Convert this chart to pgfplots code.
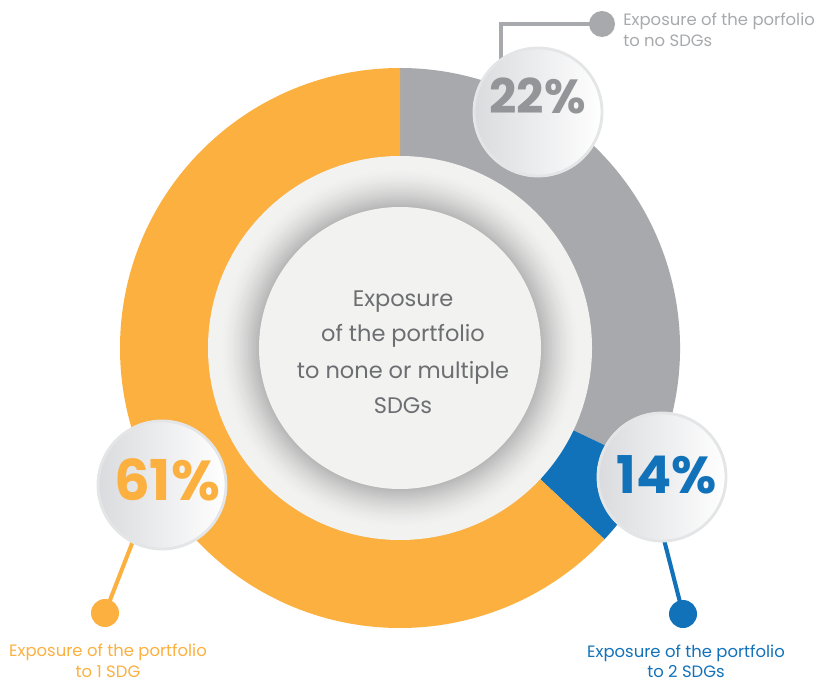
\documentclass[border=0pt]{standalone}
\usepackage{fontspec}
\setmainfont{Poppins}
\usepackage{pgfplots}
\pgfplotsset{compat=1.18}
\definecolor{ringgrey}{HTML}{A7A9AC}
\definecolor{ringorange}{HTML}{FBB040}
\definecolor{ringblue}{HTML}{1172BA}
\definecolor{discfill}{HTML}{F2F2F1}
\definecolor{textgrey}{HTML}{6D6E71}
\definecolor{pctgrey}{HTML}{939598}
\definecolor{bubbleedge}{HTML}{E4E5E7}
\definecolor{bubbleleft}{HTML}{DADBDE}
\definecolor{shadowgrey}{HTML}{B4B4B4}

\tikzset{bubble/.style={left color=bubbleleft, right color=white},
  bubbleline/.style={bubbleedge, line width=2pt},
  lbl/.style={inner sep=0, font=\fontsize{11.7}{14}\selectfont},
  mid/.style={anchor=base, inner sep=0, text=textgrey, font=\fontsize{16}{16}\selectfont}}

\begin{document}
\begin{tikzpicture}
\begin{axis}[
  x=1cm, y=1cm,
  xmin=0, xmax=20.5, ymin=0, ymax=17.025,
  hide axis, clip=false,
]
\path (axis cs:0,0) rectangle (axis cs:20.5,17.025);

% ring segments: no SDG 22%, 2 SDGs 14%, 1 SDG 61%
\fill[ringgrey] (axis cs:10,8.325) -- ++(-25.4:7) arc[start angle=-25.4, end angle=90, radius=7] -- cycle;
\fill[ringblue] (axis cs:10,8.325) -- ++(-43.1:7) arc[start angle=-43.1, end angle=-25.4, radius=7] -- cycle;
\fill[ringorange] (axis cs:10,8.325) -- ++(90:7) arc[start angle=90, end angle=316.9, radius=7] -- cycle;

% inner disc, soft shadow, centre disc
\fill[discfill] (axis cs:10,8.325) circle[radius=4.8];
\fill[shadowgrey!1!discfill] (axis cs:10,8.325) circle[radius=4.45];
\fill[shadowgrey!3!discfill] (axis cs:10,8.325) circle[radius=4.40];
\fill[shadowgrey!6!discfill] (axis cs:10,8.325) circle[radius=4.35];
\fill[shadowgrey!9!discfill] (axis cs:10,8.325) circle[radius=4.30];
\fill[shadowgrey!13!discfill] (axis cs:10,8.325) circle[radius=4.25];
\fill[shadowgrey!17!discfill] (axis cs:10,8.325) circle[radius=4.20];
\fill[shadowgrey!22!discfill] (axis cs:10,8.325) circle[radius=4.15];
\fill[shadowgrey!26!discfill] (axis cs:10,8.325) circle[radius=4.10];
\fill[shadowgrey!31!discfill] (axis cs:10,8.325) circle[radius=4.05];
\fill[shadowgrey!37!discfill] (axis cs:10,8.325) circle[radius=4.00];
\fill[shadowgrey!42!discfill] (axis cs:10,8.325) circle[radius=3.95];
\fill[shadowgrey!48!discfill] (axis cs:10,8.325) circle[radius=3.90];
\fill[shadowgrey!54!discfill] (axis cs:10,8.325) circle[radius=3.85];
\fill[shadowgrey!61!discfill] (axis cs:10,8.325) circle[radius=3.80];
\fill[shadowgrey!67!discfill] (axis cs:10,8.325) circle[radius=3.75];
\fill[shadowgrey!74!discfill] (axis cs:10,8.325) circle[radius=3.70];
\fill[shadowgrey!81!discfill] (axis cs:10,8.325) circle[radius=3.65];
\fill[shadowgrey!89!discfill] (axis cs:10,8.325) circle[radius=3.60];
\fill[shadowgrey!96!discfill] (axis cs:10,8.325) circle[radius=3.55];
\fill[discfill] (axis cs:10,8.325) circle[radius=3.525];

\node[mid] at (axis cs:10.075,9.35) {Exposure};
\node[mid] at (axis cs:10.075,8.475) {of the portfolio};
\node[mid] at (axis cs:10.075,7.575) {to none or multiple};
\node[mid] at (axis cs:10.075,6.7) {SDGs};

% connectors
\draw[ringgrey, line width=2.9pt] (axis cs:12.525,14.775) -- (axis cs:12.525,16.425) -- (axis cs:15.05,16.425);
\fill[ringgrey] (axis cs:15.05,16.425) circle[radius=0.325];
\draw[ringorange, line width=2.9pt] (axis cs:3.5,3.95) -- (axis cs:2.625,1.7);
\fill[ringorange] (axis cs:2.625,1.7) circle[radius=0.35];
\draw[ringblue, line width=2.9pt] (axis cs:16.2,5.1) -- (axis cs:17.075,1.675);
\fill[ringblue] (axis cs:17.075,1.675) circle[radius=0.35];

% bubbles
\shade[bubble] (axis cs:13.45,14.225) circle[radius=1.625];
\draw[bubbleline] (axis cs:13.45,14.225) circle[radius=1.6];
\shade[bubble] (axis cs:4.05,4.9) circle[radius=1.625];
\draw[bubbleline] (axis cs:4.05,4.9) circle[radius=1.6];
\shade[bubble] (axis cs:16.55,5.1) circle[radius=1.625];
\draw[bubbleline] (axis cs:16.55,5.1) circle[radius=1.6];

\node[anchor=base, inner sep=0, text=pctgrey, font=\fontsize{34}{34}\selectfont\bfseries] at (axis cs:13.44,14.175) {22\%};
\node[anchor=base, inner sep=0, text=ringorange, font=\fontsize{40}{40}\selectfont\bfseries] at (axis cs:4.175,4.525) {61\%};
\node[anchor=base, inner sep=0, text=ringblue, font=\fontsize{37}{37}\selectfont\bfseries] at (axis cs:16.675,4.7) {14\%};

% labels
\node[lbl, anchor=base west, text=ringgrey] at (axis cs:15.575,16.375) {Exposure of the porfolio};
\node[lbl, anchor=base west, text=ringgrey] at (axis cs:15.575,15.85) {to no SDGs};
\node[lbl, anchor=base, text=ringorange] at (axis cs:2.7,0.625) {Exposure of the portfolio};
\node[lbl, anchor=base, text=ringorange] at (axis cs:2.7,0.1) {to 1 SDG};
\node[lbl, anchor=base, text=ringblue] at (axis cs:17.15,0.6) {Exposure of the portfolio};
\node[lbl, anchor=base, text=ringblue] at (axis cs:17.15,0.1) {to 2 SDGs};
\end{axis}
\end{tikzpicture}
\end{document}
